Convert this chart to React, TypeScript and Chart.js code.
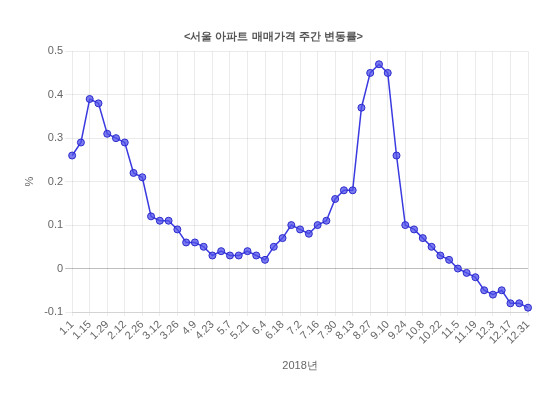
import React, { useEffect, useRef } from "react";
import { Chart, registerables } from "chart.js";

Chart.register(...registerables);

const weeks = [
  "1.1", "1.8", "1.15", "1.22", "1.29", "2.5", "2.12", "2.19", "2.26", "3.5",
  "3.12", "3.19", "3.26", "4.2", "4.9", "4.16", "4.23", "4.30", "5.7", "5.14",
  "5.21", "5.28", "6.4", "6.11", "6.18", "6.25", "7.2", "7.9", "7.16", "7.23",
  "7.30", "8.6", "8.13", "8.20", "8.27", "9.3", "9.10", "9.17", "9.24", "10.1",
  "10.8", "10.15", "10.22", "10.29", "11.5", "11.12", "11.19", "11.26", "12.3", "12.10",
  "12.17", "12.24", "12.31",
];

const changeRate = [
  0.26, 0.29, 0.39, 0.38, 0.31, 0.30, 0.29, 0.22, 0.21, 0.12,
  0.11, 0.11, 0.09, 0.06, 0.06, 0.05, 0.03, 0.04, 0.03, 0.03,
  0.04, 0.03, 0.02, 0.05, 0.07, 0.10, 0.09, 0.08, 0.10, 0.11,
  0.16, 0.18, 0.18, 0.37, 0.45, 0.47, 0.45, 0.26, 0.10, 0.09,
  0.07, 0.05, 0.03, 0.02, 0.00, -0.01, -0.02, -0.05, -0.06, -0.05,
  -0.08, -0.08, -0.09,
];

const titleText = "<서울 아파트 매매가격 주간 변동률>";
const xTitle = "2018년";
const yTitle = "%";

export default function App() {
  const ref = useRef<HTMLCanvasElement | null>(null);
  useEffect(() => {
    if (!ref.current) return;
    Chart.defaults.font.family = "'Liberation Sans', Arial, sans-serif";
    const chart = new Chart(ref.current, {
      type: "line",
      data: {
        labels: weeks,
        datasets: [
          {
            label: "변동률",
            data: changeRate,
            borderColor: "#3a3ae0",
            backgroundColor: "rgba(70,70,230,0.75)",
            pointBorderColor: "#2a2acc",
            pointBackgroundColor: "rgba(80,80,235,0.75)",
            borderWidth: 1.5,
            pointRadius: 3.5,
            pointBorderWidth: 1,
            tension: 0,
            fill: false,
          },
        ],
      },
      options: {
        animation: false,
        responsive: true,
        maintainAspectRatio: false,
        layout: { padding: { top: 18, bottom: 10, right: 14, left: 11 } },
        plugins: {
          legend: { display: false },
          tooltip: { enabled: false },
          title: {
            display: true,
            text: titleText,
            color: "#555",
            font: { size: 11, weight: "bold" },
            padding: { top: 4, bottom: 8 },
          },
        },
        scales: {
          x: {
            title: { display: true, text: xTitle, color: "#666", font: { size: 11 }, padding: { top: 11 } },
            ticks: {
              color: "#666",
              font: { size: 11 },
              maxRotation: 45,
              minRotation: 45,
              autoSkip: false,
              padding: 2,
              callback: (_v: any, i: number) => (i % 2 === 0 ? weeks[i] : ""),
            },
            grid: {
              color: (ctx: any) => (ctx.index % 2 === 0 ? "rgba(0,0,0,0.08)" : "rgba(0,0,0,0)"),
              drawTicks: true,
              tickLength: 4,
            },
          },
          y: {
            min: -0.1,
            max: 0.5,
            title: { display: true, text: yTitle, color: "#666", font: { size: 11 }, padding: { bottom: 6 } },
            ticks: {
              stepSize: 0.1,
              color: "#666",
              font: { size: 11 },
              padding: 2,
              callback: (v: any) => {
                const n = Math.round(Number(v) * 10) / 10;
                return n === 0 ? "0" : String(n);
              },
            },
            grid: {
              color: (ctx: any) =>
                ctx.tick && Math.abs(ctx.tick.value) < 1e-9 ? "rgba(0,0,0,0.25)" : "rgba(0,0,0,0.08)",
              drawTicks: true,
              tickLength: 7,
            },
            border: { display: false },
          },
        },
      },
    });
    return () => chart.destroy();
  }, []);
  return (
    <div style={{ width: 534, height: 379, position: "relative" }}>
      <canvas ref={ref} />
    </div>
  );
}
